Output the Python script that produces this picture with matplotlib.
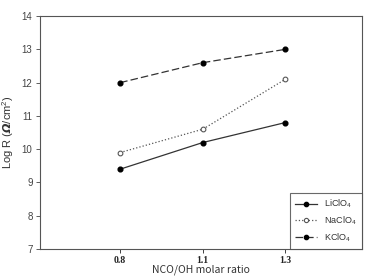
import matplotlib

matplotlib.use("Agg")
import matplotlib.pyplot as plt

# NCO/OH molar ratio categories (drawn equally spaced)
ratios = ["0.8", "1.1", "1.3"]
positions = [1, 2, 3]

# Log R values
li_vals = [9.4, 10.2, 10.8]
na_vals = [9.9, 10.6, 12.1]
k_vals = [12.0, 12.6, 13.0]

y_ticks = [7, 8, 9, 10, 11, 12, 13, 14]

plt.rcParams["font.family"] = ["Liberation Sans", "DejaVu Sans"]
plt.rcParams["mathtext.fontset"] = "custom"
plt.rcParams["mathtext.rm"] = "Liberation Sans"
plt.rcParams["mathtext.bf"] = "DejaVu Sans:bold:italic"

fig = plt.figure(figsize=(3.65, 2.77), dpi=100)
ax = fig.add_axes([0.110, 0.101, 0.882, 0.841])

ax.plot(positions, li_vals, "-", color="#333333", lw=0.9, marker="o", ms=3.4,
        mfc="black", mec="black", label=r"LiClO$_4$")
ax.plot(positions, na_vals, ":", color="#555555", lw=0.9, marker="o", ms=3.4,
        mfc="white", mec="#555555", mew=0.8, label=r"NaClO$_4$")
ax.plot(positions, k_vals, "--", color="#333333", lw=0.9, dashes=(6, 2.5),
        marker="o", ms=3.4, mfc="black", mec="black", label=r"KClO$_4$")

ax.set_xlim(0.03, 3.93)
ax.set_ylim(7, 14)
ax.set_xticks(positions)
ax.set_xticklabels(ratios, fontfamily="Liberation Serif", fontweight="bold",
                   fontsize=7)
ax.set_yticks(y_ticks)
ax.tick_params(axis="y", labelsize=7, colors="#444444", length=3, width=0.6,
               pad=2.5)
ax.tick_params(axis="x", colors="#222222", length=3, width=0.6, pad=2)

for s in ax.spines.values():
    s.set_color("#555555")
    s.set_linewidth(0.8)

ax.set_xlabel("NCO/OH molar ratio", fontsize=7.5, color="#333333",
              fontfamily=["Noto Sans CJK KR", "DejaVu Sans"], labelpad=0)
ax.set_ylabel(r"Log R ($\mathbf{\Omega}$/cm$^2$)", fontsize=8, color="#333333",
              labelpad=4)

leg = ax.legend(loc="lower right", fontsize=6.5, frameon=True, fancybox=False,
                borderaxespad=0, handlelength=2.4, labelspacing=0.45,
                borderpad=0.6, handletextpad=0.8, markerscale=0.9)
leg.get_frame().set_edgecolor("#444444")
leg.get_frame().set_linewidth(0.8)
for t in leg.get_texts():
    t.set_color("#333333")

fig.savefig("out.png", dpi=100)
